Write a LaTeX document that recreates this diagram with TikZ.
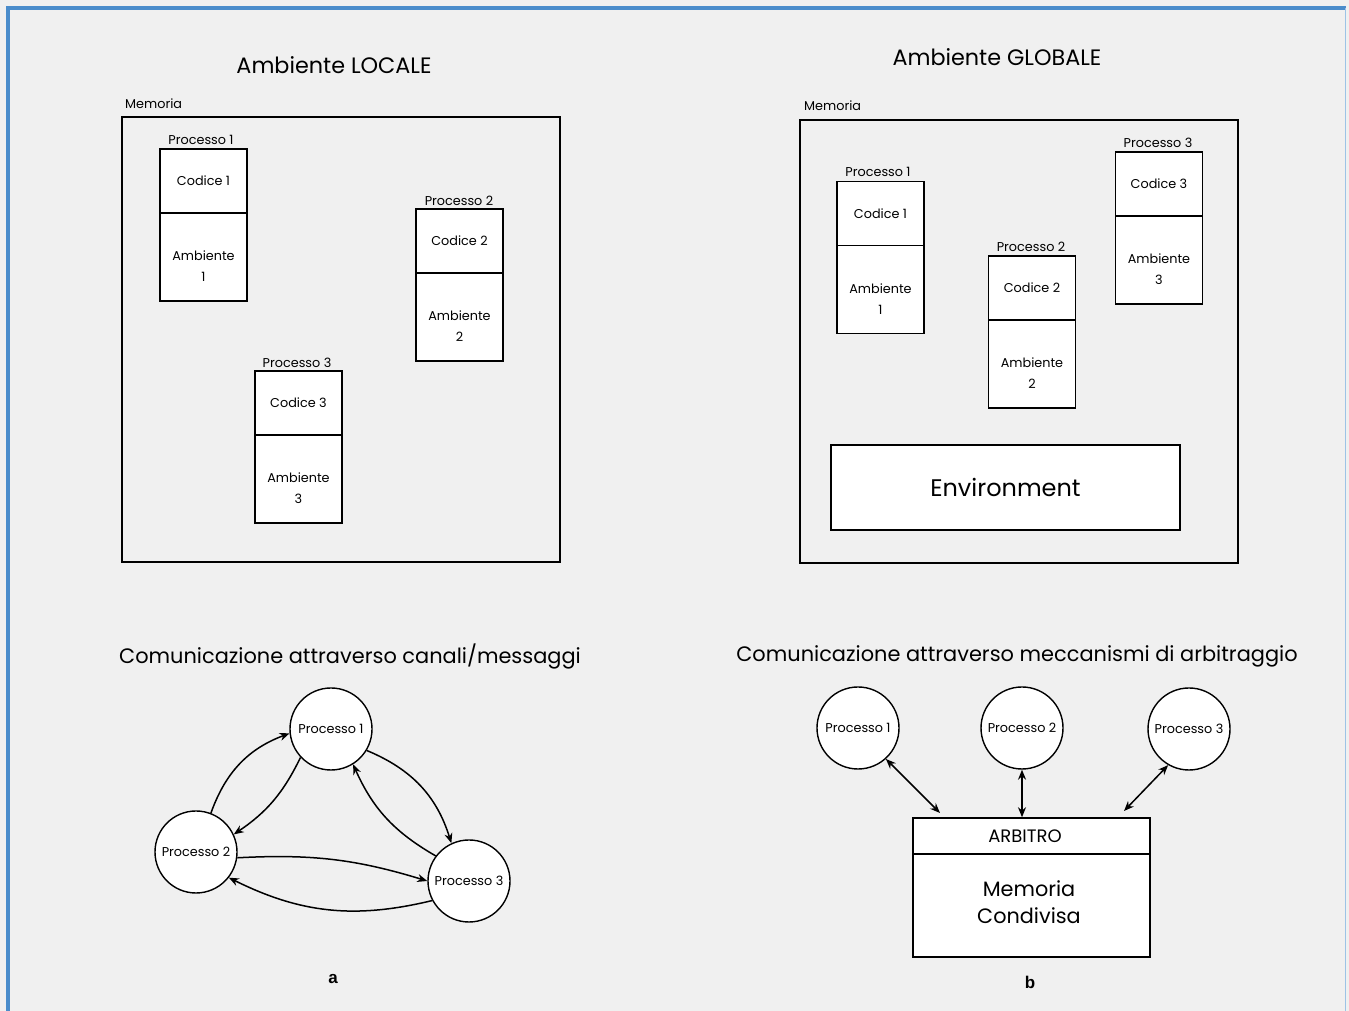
\documentclass[tikz,border=0pt]{standalone}
\usepackage{fontspec}
\setmainfont{Poppins}
\newfontfamily\labfont{Liberation Sans}
\usetikzlibrary{arrows.meta}
\definecolor{bg}{HTML}{F0F0F0}
\definecolor{frameblue}{HTML}{4A8CCB}
\definecolor{framelight}{HTML}{9DC3E6}
\begin{document}
\begin{tikzpicture}[x=1pt,y=1pt,
  lbl/.style={inner sep=0pt, font=\fontsize{12.8}{14}\selectfont},
  codebox/.style={draw, line width=1.4pt, fill=white, minimum width=87pt, minimum height=64pt, inner sep=0pt, font=\fontsize{12.8}{21}\selectfont, align=center},
  envbox/.style={codebox, minimum height=88pt},
  memo/.style={draw, line width=1.5pt},
  title/.style={inner sep=0pt, font=\fontsize{22.3}{26}\selectfont},
  subtitle/.style={inner sep=0pt, font=\fontsize{20.9}{24}\selectfont},
  proc/.style={draw, circle, line width=1.4pt, fill=white, minimum size=82pt, inner sep=0pt, font=\fontsize{12.8}{14}\selectfont},
  arr/.style={line width=1.5pt, -{Stealth[length=10pt,width=8pt]}},
  darr/.style={line width=1.5pt, {Stealth[length=10pt,width=8pt]}-{Stealth[length=10pt,width=8pt]}},
  sublabel/.style={inner sep=0pt, font=\fontsize{17}{19}\selectfont\labfont\bfseries}
]
\useasboundingbox (0,0) rectangle (1349,1011);
\fill[bg] (0,0) rectangle (1349,1011);
\draw[frameblue, line width=4pt] (8,0) -- (8,1003) -- (1346,1003);
\draw[framelight, line width=1pt] (1345,1003) -- (1345,0);

% ---------- Left: Ambiente LOCALE ----------
\node[title] (tL) at (334,946) {Ambiente LOCALE};
\node[lbl, anchor=west] (mL) at (125,907) {Memoria};
\node[memo, minimum width=438pt, minimum height=445pt, inner sep=0pt] (boxL) at (341,671.5) {};

\node[lbl] (lp1) at (201,871) {Processo 1};
\node[codebox] (lc1) at (203.5,830) {Codice 1};
\node[envbox] (le1) at (203.5,754) {\mbox{}\\[8pt]Ambiente\\1};

\node[lbl] (lp2) at (459,810) {Processo 2};
\node[codebox] (lc2) at (459.5,770) {Codice 2};
\node[envbox] (le2) at (459.5,694) {\mbox{}\\[8pt]Ambiente\\2};

\node[lbl] (lp3) at (297,648) {Processo 3};
\node[codebox] (lc3) at (298.5,608) {Codice 3};
\node[envbox] (le3) at (298.5,532) {\mbox{}\\[8pt]Ambiente\\3};

% ---------- Right: Ambiente GLOBALE ----------
\node[title] (tG) at (997,954) {Ambiente GLOBALE};
\node[lbl, anchor=west] (mG) at (804,905) {Memoria};
\node[memo, minimum width=438pt, minimum height=443pt, inner sep=0pt] (boxG) at (1019,669.5) {};

\node[lbl] (gp1) at (878,839) {Processo 1};
\node[codebox] (gc1) at (880.5,797.5) {Codice 1};
\node[envbox] (ge1) at (880.5,721.5) {\mbox{}\\[8pt]Ambiente\\1};

\node[lbl] (gp2) at (1031,764) {Processo 2};
\node[codebox] (gc2) at (1032,723) {Codice 2};
\node[envbox] (ge2) at (1032,647) {\mbox{}\\[8pt]Ambiente\\2};

\node[lbl] (gp3) at (1158,868) {Processo 3};
\node[codebox] (gc3) at (1159,827) {Codice 3};
\node[envbox] (ge3) at (1159,751) {\mbox{}\\[8pt]Ambiente\\3};

\node[draw, line width=1.5pt, fill=white, minimum width=349pt, minimum height=85pt, inner sep=0pt, font=\fontsize{24}{28}\selectfont] (env) at (1005.5,523.5) {Environment};

% ---------- Bottom left ----------
\node[subtitle] (tcA) at (350,355) {Comunicazione attraverso canali/messaggi};
\node[proc] (a1) at (331,282) {Processo 1};
\node[proc] (a2) at (196,159) {Processo 2};
\node[proc] (a3) at (469,130) {Processo 3};
\draw[arr] (a2.69) to[bend left=25] (a1.186);
\draw[arr] (a1.223) to[bend left=15] (a2.25);
\draw[arr] (a1.-31) to[bend left=25] (a3.115);
\draw[arr] (a3.143) to[bend left=18] (a1.-58);
\draw[arr] (a2.-8) to[bend left=10] (a3.180);
\draw[arr] (a3.208) to[bend left=20] (a2.-38);
\node[sublabel] (la) at (333,32) {a};

% ---------- Bottom right ----------
\node[subtitle] (tcB) at (1017,355) {Comunicazione attraverso meccanismi di arbitraggio};
\node[proc] (b1) at (858,283) {Processo 1};
\node[proc] (b2) at (1022,283) {Processo 2};
\node[proc] (b3) at (1189,282) {Processo 3};
\node[draw, line width=1.5pt, fill=white, minimum width=237pt, minimum height=36pt, inner sep=0pt] (arb) at (1031.5,175) {};
\node[inner sep=0pt, font=\fontsize{18}{20}\selectfont] (arbt) at (1025,175) {ARBITRO};
\node[draw, line width=1.5pt, fill=white, minimum width=237pt, minimum height=103pt, inner sep=0pt] (mem) at (1031.5,105.5) {};
\node[inner sep=0pt, font=\fontsize{20.8}{27}\selectfont, align=center] (memt) at (1029,109) {Memoria\\Condivisa};
\coordinate (e1) at (940,198);
\coordinate (e3) at (1124,200);
\draw[darr] (b1.-48) -- (e1);
\draw[darr] (b2.south) -- (b2.south |- arb.north);
\draw[darr] (b3.-120) -- (e3);
\node[sublabel] (lb) at (1030,29) {b};
\end{tikzpicture}
\end{document}
